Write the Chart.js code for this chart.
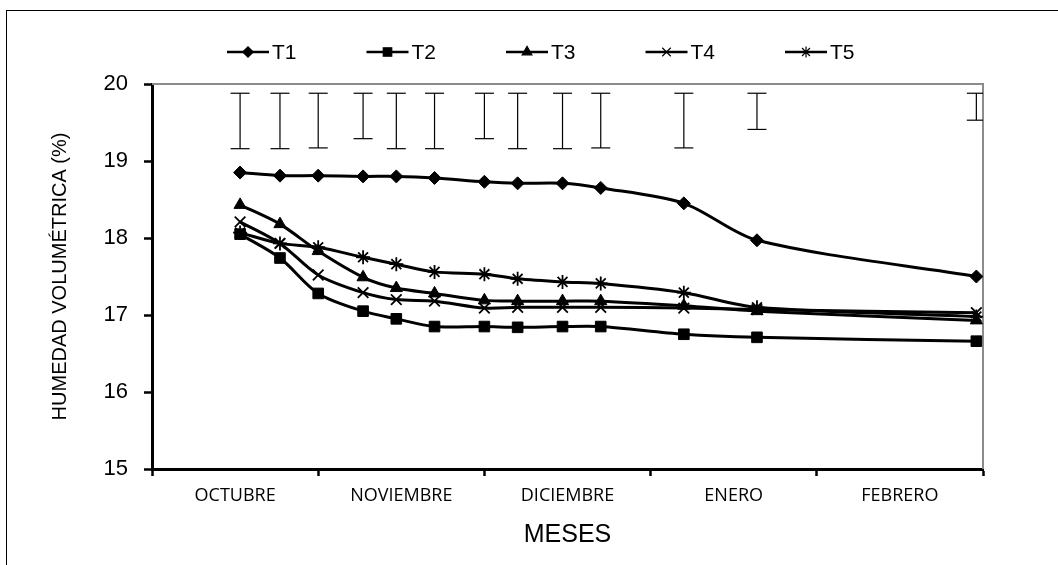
<!DOCTYPE html>
<html>
<head>
<meta charset="utf-8">
<script src="https://cdn.jsdelivr.net/npm/chart.js@4.4.1/dist/chart.umd.min.js"></script>
<style>
  html, body { margin:0; padding:0; background:#fff; }
  #wrap { position:relative; width:1058px; height:565px; overflow:hidden; }
  #frame { position:absolute; left:6px; top:10px; width:1100px; height:600px; border:1.5px solid #000; box-sizing:border-box; }
  #chart { position:absolute; left:0; top:0; }
</style>
</head>
<body>
<div id="wrap">
  <div id="frame"></div>
  <canvas id="chart" width="1058" height="565"></canvas>
</div>
<script>
'use strict';

// ===== data (x en meses: 0 = inicio de octubre, 5 = fin de febrero) =====
const MONTHS = ['OCTUBRE', 'NOVIEMBRE', 'DICIEMBRE', 'ENERO', 'FEBRERO'];
const SAMPLE_X = [0.53, 0.77, 1.0, 1.27, 1.47, 1.70, 2.0, 2.20, 2.47, 2.70, 3.20, 3.64, 4.96];

const T1 = [18.85, 18.81, 18.81, 18.80, 18.80, 18.78, 18.73, 18.71, 18.71, 18.65, 18.45, 17.97, 17.50];
const T2 = [18.05, 17.74, 17.28, 17.05, 16.95, 16.85, 16.85, 16.84, 16.85, 16.85, 16.75, 16.71, 16.66];
const T3 = [18.43, 18.18, 17.83, 17.49, 17.35, 17.28, 17.19, 17.18, 17.18, 17.18, 17.12, 17.05, 16.93];
const T4 = [18.21, 17.93, 17.52, 17.29, 17.20, 17.18, 17.09, 17.10, 17.10, 17.10, 17.09, 17.07, 17.03];
const T5 = [18.07, 17.93, 17.88, 17.75, 17.66, 17.56, 17.53, 17.47, 17.43, 17.41, 17.29, 17.10, 16.98];

// barras verticales (DMS) en la parte superior
const BAR_HIGH = [19.88, 19.88, 19.88, 19.88, 19.88, 19.88, 19.88, 19.88, 19.88, 19.88, 19.88, 19.88, 19.88];
const BAR_LOW  = [19.16, 19.16, 19.17, 19.29, 19.16, 19.16, 19.29, 19.16, 19.16, 19.17, 19.17, 19.41, 19.53];

const SERIES = [
  { label:'T1', values:T1, style:'rectRot', radius:6.5 },
  { label:'T2', values:T2, style:'rect', radius:7.5 },
  { label:'T3', values:T3, style:'triangle', radius:7 },
  { label:'T4', values:T4, style:'crossRot', radius:7.5 },
  { label:'T5', values:T5, style:'star', radius:7 },
];

const FONT = "'Liberation Sans', Arial, sans-serif";

// ===== datasets =====
function toPoints(values){
  return values.map((v, i) => ({ x: SAMPLE_X[i], y: v }));
}

function errorBarPoints(){
  const pts = [];
  SAMPLE_X.forEach((x, i) => {
    pts.push({ x, y: BAR_HIGH[i] }, { x, y: BAR_LOW[i] }, { x, y: null });
  });
  return pts;
}

const datasets = SERIES.map(s => ({
  label: s.label,
  data: toPoints(s.values),
  borderColor: '#000',
  backgroundColor: '#000',
  borderWidth: 3,
  tension: 0.3,
  pointStyle: s.style,
  pointRadius: s.radius,
  pointBorderWidth: (s.style === 'crossRot' || s.style === 'star') ? 1.8 : 1,
  pointBackgroundColor: '#000',
  pointBorderColor: '#000',
}));

datasets.push({
  label: 'dms',
  data: errorBarPoints(),
  borderColor: '#000',
  borderWidth: 1.2,
  tension: 0,
  spanGaps: false,
  pointStyle: 'line',
  pointRadius: 9.5,
  pointBorderWidth: 1.2,
  pointBorderColor: '#000',
});

// ===== plugins =====
// leyenda: línea con marcador al centro, como en Excel
const legendLine = {
  id: 'legendLine',
  afterDraw(chart){
    const ctx = chart.ctx;
    const y = 52, x0 = 227, step = 139.5, len = 42;
    ctx.save();
    SERIES.forEach((s, i) => {
      const x = x0 + i * step;
      ctx.strokeStyle = '#000';
      ctx.lineWidth = 2.5;
      ctx.beginPath();
      ctx.moveTo(x, y);
      ctx.lineTo(x + len, y);
      ctx.stroke();
      ctx.fillStyle = '#000';
      ctx.lineWidth = 1.2;
      Chart.helpers.drawPoint(ctx, { pointStyle: s.style, radius: s.radius * 0.8, rotation: 0, borderWidth: 1.2 }, x + len / 2, y);
      ctx.fillStyle = '#000';
      ctx.font = '21px ' + FONT;
      ctx.textBaseline = 'middle';
      ctx.textAlign = 'left';
      ctx.fillText(s.label, x + len + 3, y + 1);
    });
    ctx.restore();
  }
};

// bordes gris arriba y a la derecha del área de trazado
const plotFrame = {
  id: 'plotFrame',
  beforeDatasetsDraw(chart){
    const { ctx, chartArea: a } = chart;
    ctx.save();
    ctx.strokeStyle = '#8c8c8c';
    ctx.lineWidth = 2;
    ctx.beginPath();
    ctx.moveTo(a.left, a.top);
    ctx.lineTo(a.right, a.top);
    ctx.lineTo(a.right, a.bottom);
    ctx.stroke();
    ctx.restore();
  }
};

// ===== chart =====
new Chart(document.getElementById('chart'), {
  type: 'line',
  data: { datasets },
  plugins: [plotFrame, legendLine],
  options: {
    responsive: false,
    animation: false,
    layout: { padding: { top: 84, right: 75, bottom: 0, left: 0 } },
    plugins: {
      legend: { display: false },
      tooltip: { enabled: false }
    },
    scales: {
      x: {
        type: 'linear',
        min: 0,
        max: 5,
        afterFit: s => { s.height = 96; },
        grid: {
          drawOnChartArea: false,
          drawTicks: true,
          tickLength: 7,
          tickWidth: 2.5,
          tickColor: c => Number.isInteger(c.tick.value) ? '#000' : 'rgba(0,0,0,0)'
        },
        border: { display: true, color: '#000', width: 3 },
        ticks: {
          stepSize: 0.5,
          autoSkip: false,
          maxRotation: 0,
          padding: 9,
          color: '#000',
          font: { family: "'Open Sans', sans-serif", size: 18 },
          callback: v => Number.isInteger(v) ? '' : MONTHS[Math.floor(v)]
        },
        title: {
          display: true,
          text: 'MESES',
          color: '#000',
          font: { family: FONT, size: 25 },
          padding: { top: 0, bottom: 15 }
        }
      },
      y: {
        min: 15,
        max: 20,
        afterFit: s => { s.width = 152; },
        grid: {
          drawOnChartArea: false,
          drawTicks: true,
          tickLength: 8,
          tickWidth: 2.5,
          tickColor: '#000'
        },
        border: { display: true, color: '#000', width: 3 },
        ticks: {
          stepSize: 1,
          padding: 16,
          color: '#000',
          font: { family: FONT, size: 22 }
        },
        title: {
          display: true,
          text: 'HUMEDAD VOLUMÉTRICA (%)',
          color: '#000',
          font: { family: FONT, size: 20 },
          padding: { top: 48, bottom: 0 }
        }
      }
    }
  }
});
</script>
</body>
</html>
